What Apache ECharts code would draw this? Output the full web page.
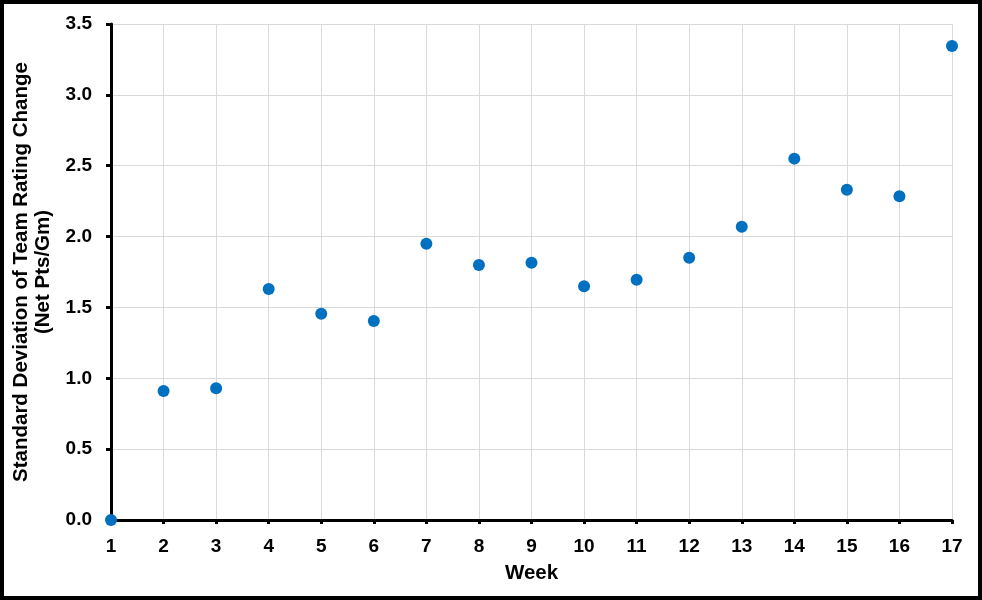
<!DOCTYPE html>
<html><head><meta charset="utf-8">
<script src="https://cdn.jsdelivr.net/npm/echarts@6/dist/echarts.min.js"></script>
<style>html,body{margin:0;padding:0;background:#fff}#c{width:982px;height:600px}</style>
</head><body><div id="c"></div>
<script>
const weeks = [1,2,3,4,5,6,7,8,9,10,11,12,13,14,15,16,17];
const stdDev = [0,0.91,0.93,1.63,1.455,1.405,1.95,1.80,1.815,1.65,1.695,1.85,2.07,2.55,2.33,2.285,3.345];
const xTitle = 'Week';
const yTitle = 'Standard Deviation of Team Rating Change\n(Net Pts/Gm)';

const chart = echarts.init(document.getElementById('c'));
const font = 'Liberation Sans, Arial, sans-serif';
chart.setOption({
  animation: false,
  grid: {left: 111, right: 30, top: 24, bottom: 80, outerBoundsMode: 'none', containLabel: false},
  graphic: [{type:'rect', shape:{x:2,y:2,width:978,height:596}, style:{fill:'none', stroke:'#000', lineWidth:4}, z:100}],
  xAxis: {
    type: 'value', min: 1, max: 17, interval: 1,
    name: xTitle, nameLocation: 'middle', nameGap: 43,
    nameTextStyle: {fontFamily: font, fontWeight: 'bold', fontSize: 20.5, color: '#000'},
    axisLine: {lineStyle: {color: '#000', width: 3}},
    axisTick: {show: true, length: 4, lineStyle: {color: '#000', width: 3}},
    axisLabel: {fontFamily: font, fontWeight: 'bold', fontSize: 19, color: '#000', margin: 17},
    splitLine: {show: true, lineStyle: {color: '#d9d9d9', width: 1}}
  },
  yAxis: {
    type: 'value', min: 0, max: 3.5, interval: 0.5,
    name: yTitle, nameLocation: 'middle', nameGap: 52, nameRotate: 90,
    nameTextStyle: {fontFamily: font, fontWeight: 'bold', fontSize: 20.5, color: '#000', lineHeight: 22},
    axisLine: {show: true, lineStyle: {color: '#000', width: 3}},
    axisTick: {show: true, length: 5, lineStyle: {color: '#000', width: 3}},
    axisLabel: {fontFamily: font, fontWeight: 'bold', fontSize: 19, color: '#000', margin: 19,
      formatter: v => v.toFixed(1)},
    splitLine: {show: true, lineStyle: {color: '#d9d9d9', width: 1}}
  },
  series: [{
    type: 'scatter', symbolSize: 12,
    itemStyle: {color: '#0070C0', opacity: 1},
    data: weeks.map((w, i) => [w, stdDev[i]]),
    z: 10
  }]
});
</script></body></html>
